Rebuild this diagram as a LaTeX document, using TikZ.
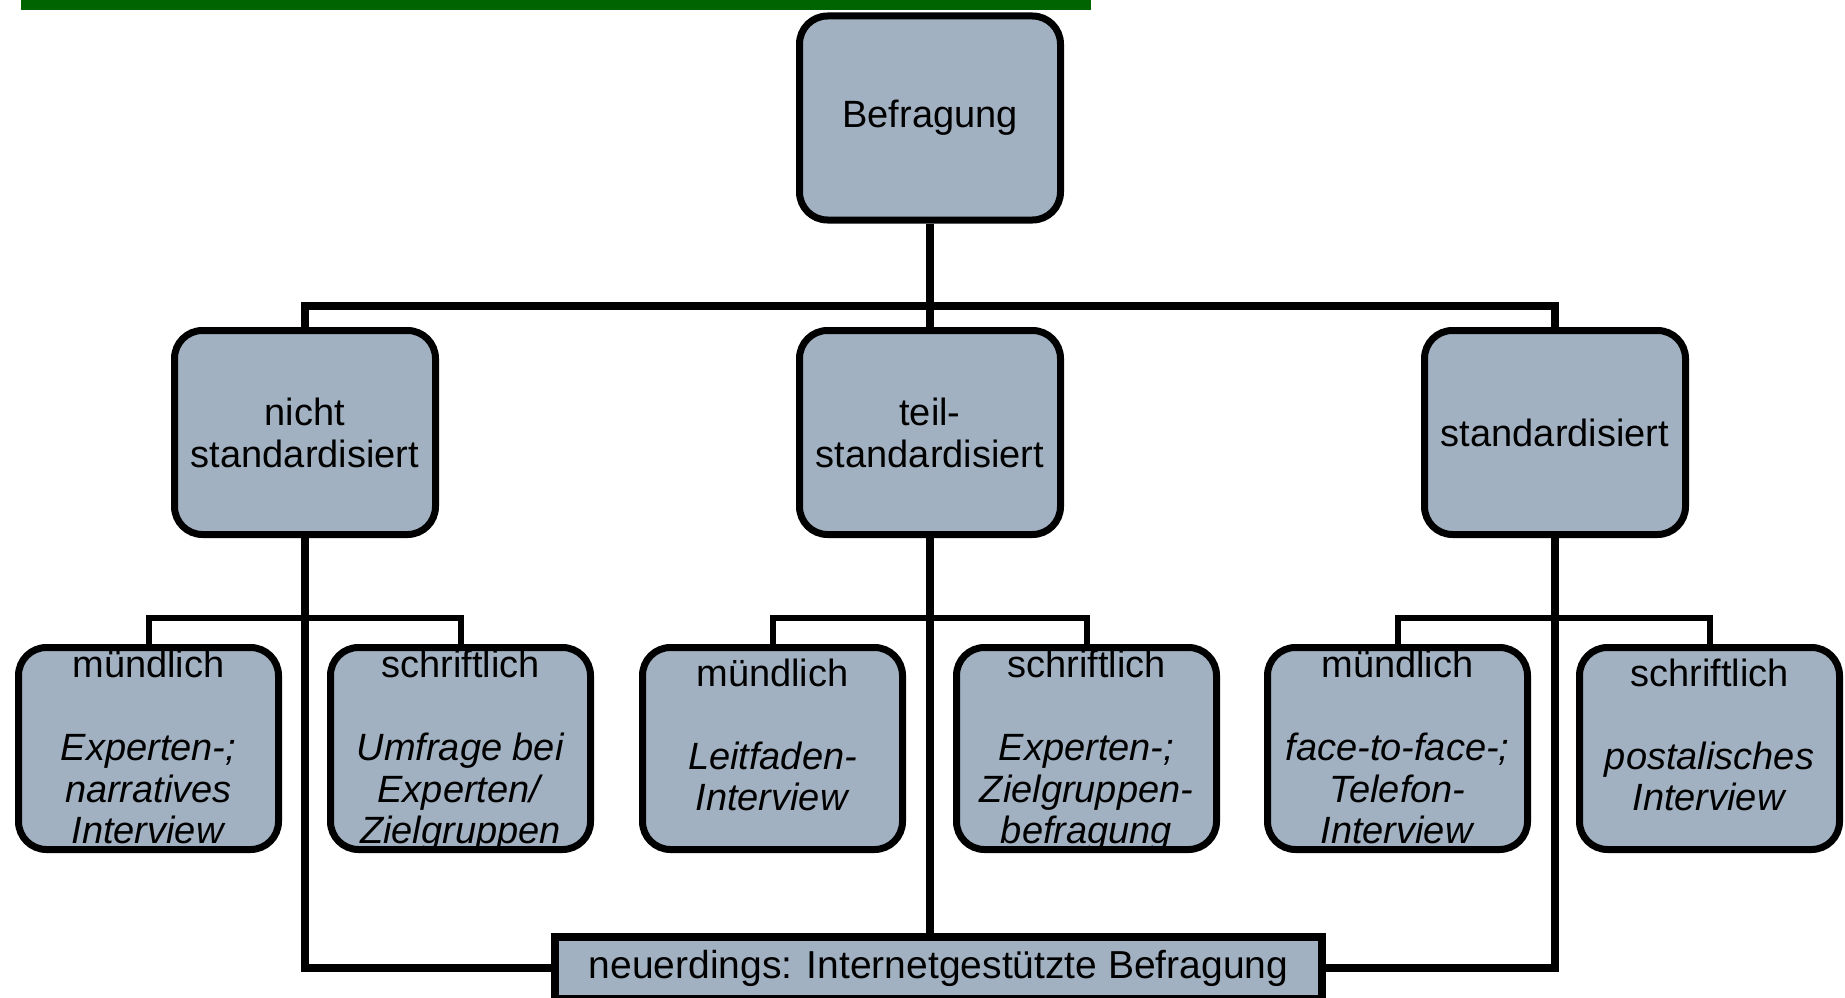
\documentclass[tikz,border=0pt]{standalone}
\usepackage{fontspec}
\setmainfont{Liberation Sans}
\definecolor{boxfill}{HTML}{A2B1C1}
\definecolor{bargreen}{HTML}{006400}
\begin{document}
\begin{tikzpicture}[x=1pt,y=-1pt,
  box/.style={draw=black, line width=7pt, fill=boxfill, rounded corners=28pt,
    minimum width=261pt, minimum height=204pt, inner sep=0pt, align=center,
    font=\fontsize{38}{42}\selectfont},
  boxthree/.style={box, minimum width=260pt, minimum height=202pt},
  txt/.style={inner sep=0pt, align=center, font=\fontsize{38}{41.5}\selectfont},
  conn/.style={line width=7.5pt},
  busline/.style={line width=6pt}]
\useasboundingbox (0,0) rectangle (1845,998);
\fill[bargreen] (21,0) rectangle (1091,10);
\coordinate (busA) at (0,306);
\coordinate (busB) at (0,618);
% top and level 2
\node[box] (bef) at (930,118) {\raisebox{-3pt}{Befragung}};
\node[box] (nicht) at (305,432.5) {nicht\\standardisiert};
\node[box] (teil) at (930,432.5) {teil-\\standardisiert};
\node[box] (std) at (1555,432.5) {standardisiert};
% level 3 boxes
\node[boxthree] (m1) at (148.5,748.5) {};
\node[boxthree] (s1) at (460.5,748.5) {};
\node[boxthree] (m2) at (772.5,748.5) {};
\node[boxthree] (s2) at (1086.5,748.5) {};
\node[boxthree] (m3) at (1397.5,748.5) {};
\node[boxthree] (s3) at (1709.5,748.5) {};
% level 3 texts
\node[txt] (m1t) at (148.5,747) {mündlich\\[41.5pt]\textit{Experten-;}\\\textit{narratives}\\\textit{Interview}};
\node[txt] (s1t) at (460.5,751) {schriftlich\\[41.5pt]\textit{Umfrage bei}\\\textit{Experten/}\\\textit{Zielgruppen}};
\node[txt] (m2t) at (772.5,735) {mündlich\\[41.5pt]\textit{Leitfaden-}\\\textit{Interview}};
\node[txt] (s2t) at (1086.5,751) {schriftlich\\[41.5pt]\textit{Experten-;}\\\textit{Zielgruppen-}\\\textit{befragung}};
\node[txt] (m3t) at (1397.5,747) {mündlich\\[41.5pt]\textit{face-to-face-;}\\\textit{Telefon-}\\\textit{Interview}};
\node[txt] (s3t) at (1709.5,735) {schriftlich\\[41.5pt]\textit{postalisches}\\\textit{Interview}};
% bottom box
\node[draw=black, line width=8pt, fill=boxfill, minimum width=767pt, minimum height=62pt,
  inner sep=0pt, font=\fontsize{39}{42}\selectfont] (net) at (938.5,968)
  {\raisebox{-2pt}{neuerdings: Internetgestützte Befragung}};
% connectors
\draw[conn] (bef.south) -- (bef.south |- busA);
\draw[conn] (nicht.north) -- (nicht.north |- busA) -- (std.north |- busA) -- (std.north);
\draw[conn] (teil.north) -- (teil.north |- busA);
\draw[conn] (nicht.south) |- (net.west);
\draw[conn] (teil.south) -- (teil.south |- net.north);
\draw[conn] (std.south) |- (net.east);
\draw[busline] (m1.north) -- (m1.north |- busB) -- (s1.north |- busB) -- (s1.north);
\draw[busline] (m2.north) -- (m2.north |- busB) -- (s2.north |- busB) -- (s2.north);
\draw[busline] (m3.north) -- (m3.north |- busB) -- (s3.north |- busB) -- (s3.north);
\end{tikzpicture}
\end{document}
